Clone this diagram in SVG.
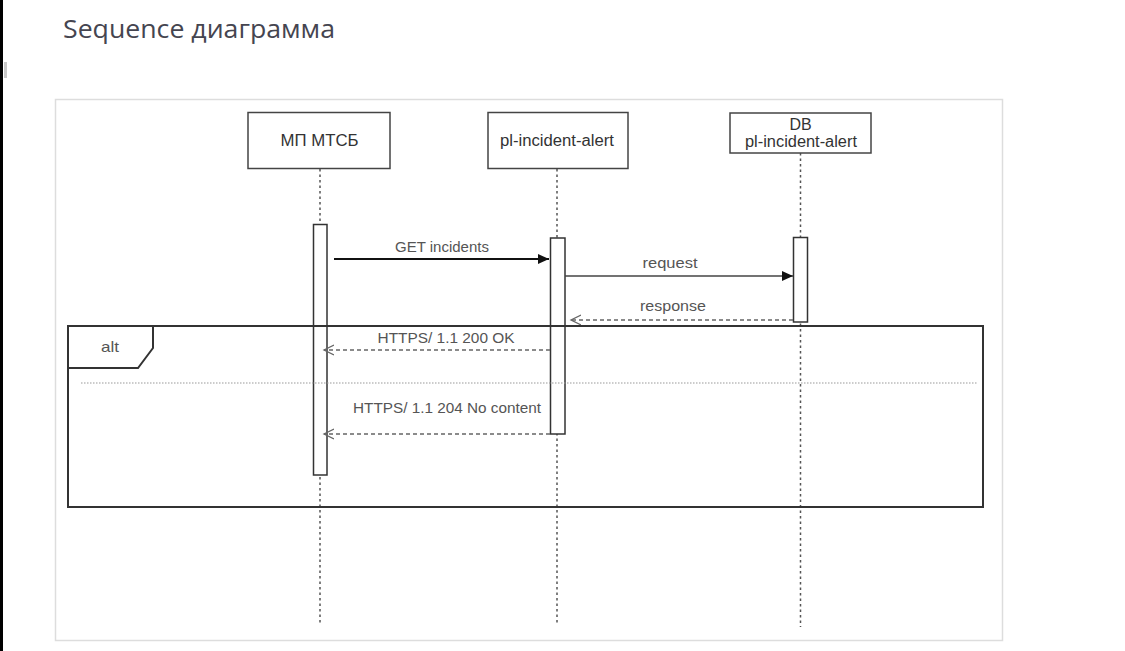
<svg xmlns="http://www.w3.org/2000/svg" width="1125" height="651" viewBox="0 0 1125 651">
<style>
.title{font-family:"Open Sans","Noto Sans","DejaVu Sans",sans-serif;font-size:25px;fill:#454550}
.box{fill:#fff;stroke:#444;stroke-width:1.5}
.blabel{font-family:"Liberation Sans",Arial,sans-serif;font-size:16px;fill:#333;text-anchor:middle}
.mlabel{font-family:"Liberation Sans",Arial,sans-serif;font-size:15px;fill:#555;text-anchor:middle}
.life{stroke:#555;stroke-width:1.5;stroke-dasharray:2.5,3;fill:none}
.act{fill:#fff;stroke:#333;stroke-width:1.5}
.sync{stroke:#111;stroke-width:2;fill:none}
.sync2{stroke:#444;stroke-width:1.5;fill:none}
.ret{stroke:#666;stroke-width:1.5;stroke-dasharray:4,3;fill:none}
.frame{fill:none;stroke:#333;stroke-width:2}
.sep{stroke:#999;stroke-width:1.2;stroke-dasharray:1.5,1.5;fill:none}
</style>
<defs>
<marker id="filled" markerWidth="12" markerHeight="10" refX="11" refY="5" orient="auto" markerUnits="userSpaceOnUse">
<path d="M0,0 L11,5 L0,10 Z" fill="#111"/>
</marker>
<marker id="open" markerWidth="12" markerHeight="12" refX="10" refY="6" orient="auto" markerUnits="userSpaceOnUse">
<path d="M0,1 L10,6 L0,11" fill="none" stroke="#666" stroke-width="1.3"/>
</marker>
</defs>
<rect width="1125" height="651" fill="#fff"/>
<rect x="0" y="0" width="3" height="651" fill="#000"/>
<rect x="4" y="62" width="3" height="16" fill="#c8c8c8"/>
<text class="title" x="63" y="37.5" textLength="272" lengthAdjust="spacingAndGlyphs">Sequence диаграмма</text>
<rect x="55.5" y="99.5" width="947" height="541" fill="none" stroke="#ddd" stroke-width="1.5"/>

<g id="lifelines">
<line class="life" x1="320" y1="169" x2="320" y2="625"/>
<line class="life" x1="557" y1="169" x2="557" y2="624"/>
<line class="life" x1="800.5" y1="153" x2="800.5" y2="627"/>
</g>

<g id="node-mp">
<rect class="box" x="248" y="112.5" width="142" height="56"/>
<text class="blabel" x="319.5" y="146" textLength="78" lengthAdjust="spacingAndGlyphs">МП МТСБ</text>
</g>
<g id="node-alert">
<rect class="box" x="488" y="112.5" width="140" height="56"/>
<text class="blabel" x="557" y="146" textLength="114" lengthAdjust="spacingAndGlyphs">pl-incident-alert</text>
</g>
<g id="node-db">
<rect class="box" x="730" y="113" width="141" height="40"/>
<text class="blabel" x="800.5" y="129.5">DB</text>
<text class="blabel" x="801" y="146.5" textLength="112" lengthAdjust="spacingAndGlyphs">pl-incident-alert</text>
</g>

<g id="activations">
<rect class="act" x="313.5" y="224.5" width="13.5" height="250.5"/>
<rect class="act" x="550.5" y="238" width="14.5" height="196"/>
<rect class="act" x="793.5" y="237.5" width="14" height="84.5"/>
</g>

<g id="connectors">
<line class="sync" x1="334" y1="259" x2="549" y2="259" marker-end="url(#filled)"/>
<line class="sync2" x1="565" y1="276" x2="793" y2="276" marker-end="url(#filled)"/>
<line class="ret" x1="793" y1="320" x2="571" y2="320" marker-end="url(#open)"/>
<line class="ret" x1="550" y1="350" x2="324" y2="350" marker-end="url(#open)"/>
<line class="ret" x1="550" y1="434" x2="324" y2="434" marker-end="url(#open)"/>
<text class="mlabel" x="442" y="252.3" textLength="94" lengthAdjust="spacingAndGlyphs">GET incidents</text>
<text class="mlabel" x="670" y="267.5" textLength="55" lengthAdjust="spacingAndGlyphs">request</text>
<text class="mlabel" x="673" y="311" textLength="66" lengthAdjust="spacingAndGlyphs">response</text>
<text class="mlabel" x="446" y="342.7" textLength="137" lengthAdjust="spacingAndGlyphs">HTTPS/ 1.1 200 OK</text>
<text class="mlabel" x="447" y="412.7" textLength="188" lengthAdjust="spacingAndGlyphs">HTTPS/ 1.1 204 No content</text>
</g>

<g id="alt-frame">
<rect class="frame" x="68" y="326" width="915" height="181"/>
<path class="frame" d="M68,368 L138,368 L153,348 L153,326"/>
<text class="mlabel" x="110" y="352" textLength="18" lengthAdjust="spacingAndGlyphs">alt</text>
<line class="sep" x1="81" y1="383" x2="978" y2="383"/>
</g>
</svg>
